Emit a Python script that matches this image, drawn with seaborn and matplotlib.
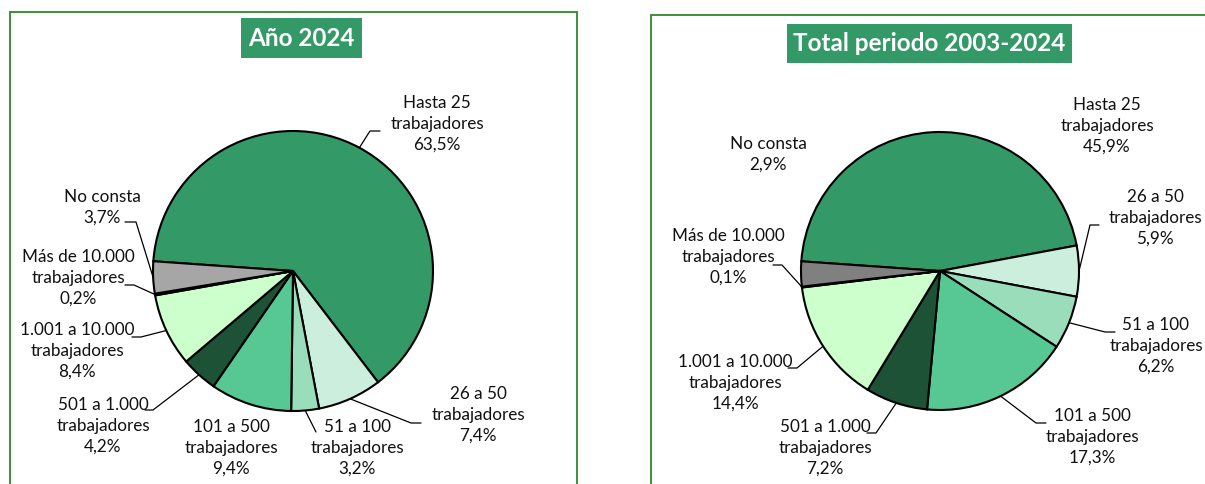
import matplotlib
matplotlib.use("Agg")
import matplotlib.pyplot as plt
import seaborn as sns
from matplotlib.patches import Rectangle
import numpy as np

# --- data ---
categorias = ["Hasta 25\ntrabajadores", "26 a 50\ntrabajadores", "51 a 100\ntrabajadores",
              "101 a 500\ntrabajadores", "501 a 1.000\ntrabajadores", "1.001 a 10.000\ntrabajadores",
              "Más de 10.000\ntrabajadores", "No consta"]
valores_2024 = [63.5, 7.4, 3.2, 9.4, 4.2, 8.4, 0.2, 3.7]
valores_total = [45.9, 5.9, 6.2, 17.3, 7.2, 14.4, 0.1, 2.9]
titulos = ["Año 2024", "Total periodo 2003-2024"]

colores_base = ["#339966", "#CCEEDD", "#99DDBB", "#57C893", "#1D5236", "#CCFFCC", "#000000"]
gris_2024 = "#A6A6A6"
gris_total = "#808080"

# --- layout (pixels, y from top) ---
W, H = 1205, 484
# text centre, elbow point, stub end (None = no leader)
layout_2024 = [
    ((437, 124), (370, 131), (380, 131)),
    ((478, 415), (411, 423), (421, 423)),
    ((357, 448), (316, 432), None),
    ((231, 448), None, None),
    ((103, 426), (153, 410), (145, 410)),
    ((77, 351), (141, 337), (132, 337)),
    ((78, 278), (134, 285), (125, 285)),
    ((102, 207), (136, 222), (125, 222)),
]
layout_total = [
    ((1107, 126), None, None),
    ((1155, 218), (1090, 225), (1099, 225)),
    ((1156, 346), (1105, 332), (1115, 332)),
    ((1092, 437), (1036, 423), (1046, 423)),
    ((825, 448), (876, 433), (867, 433)),
    ((735, 383), (797, 368), (788, 368)),
    ((728, 257), (782, 265), (773, 265)),
    ((768, 154), None, None),
]

sns.set_style("white")
plt.rcParams["font.family"] = ["Lato", "DejaVu Sans"]

fig = plt.figure(figsize=(W / 100, H / 100), dpi=100)
ax = fig.add_axes([0, 0, 1, 1])

borde = "#2A8A2A"
verde_titulo = "#339966"


def panel(x0, x1, top, tx0, tx1, ttop, tbot, titulo):
    ax.add_patch(Rectangle((x0, -20), x1 - x0, H - top + 20, fill=False,
                           edgecolor=borde, linewidth=1.3, zorder=1))
    ax.add_patch(Rectangle((tx0, H - tbot), tx1 - tx0, tbot - ttop, facecolor=verde_titulo,
                           edgecolor="none", zorder=2))
    ax.text((tx0 + tx1) / 2, H - (ttop + tbot) / 2, titulo, ha="center", va="center",
            color="white", fontsize=17.5, fontweight="bold", zorder=3)


def tarta(valores, gris, centro, radio, layout):
    cx, cy = centro[0], H - centro[1]
    cols = colores_base + [gris]
    wedges, _ = ax.pie(valores, colors=cols, startangle=176, counterclock=False,
                       radius=radio, center=(cx, cy), frame=True,
                       wedgeprops=dict(edgecolor="black", linewidth=1.5))
    for w, cat, v, (tpos, codo, fin) in zip(wedges, categorias, valores, layout):
        etiqueta = cat + "\n" + f"{v:.1f}".replace(".", ",") + "%"
        ax.text(tpos[0], H - tpos[1], etiqueta, ha="center", va="center",
                fontsize=12.3, linespacing=1.38, color="#111111", zorder=4)
        if codo is not None:
            ang = np.deg2rad((w.theta1 + w.theta2) / 2)
            xs = [cx + radio * np.cos(ang), codo[0]]
            ys = [cy + radio * np.sin(ang), H - codo[1]]
            if fin is not None:
                xs.append(fin[0])
                ys.append(H - fin[1])
            ax.plot(xs, ys, color="black", linewidth=0.9, zorder=4)


panel(10, 577, 12, 241, 362, 18, 58, titulos[0])
panel(651, 1230, 15, 787, 1072, 24, 63, titulos[1])
tarta(valores_2024, gris_2024, (293, 271), 140, layout_2024)
tarta(valores_total, gris_total, (940, 271), 139, layout_total)

ax.set_xlim(0, W)
ax.set_ylim(0, H)
ax.set_axis_off()

fig.savefig("out.png", dpi=100, facecolor="white")
